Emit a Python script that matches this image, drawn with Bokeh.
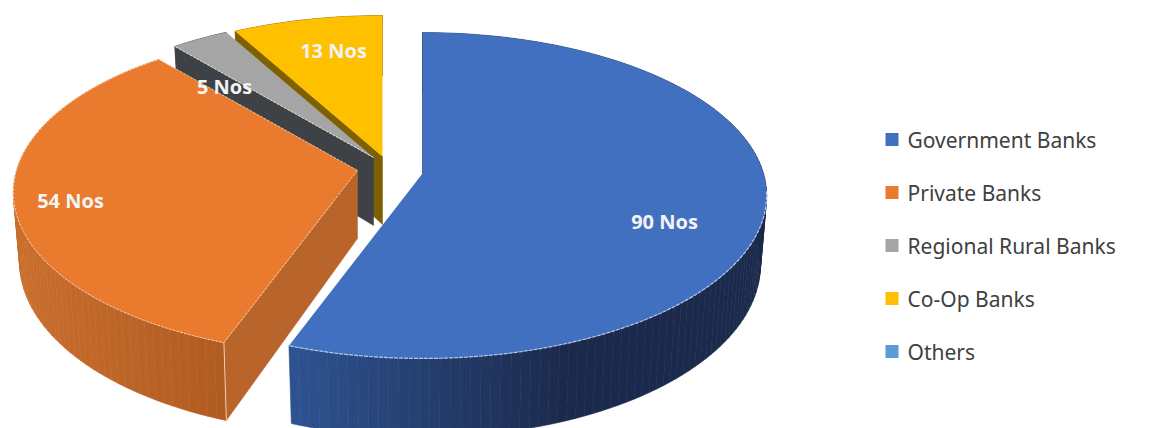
import math

from bokeh.core.properties import value
from bokeh.embed import file_html
from bokeh.models import Range1d
from bokeh.plotting import figure
from bokeh.resources import INLINE

# Number of banks per category
categories = ["Government Banks", "Private Banks", "Regional Rural Banks", "Co-Op Banks", "Others"]
bank_counts = [90, 54, 5, 13, 0]
top_colors = ["#4270C0", "#E97A2E", "#A5A5A5", "#FFC000", "#5B9BD5"]

W, H = 1163, 428

# Perspective disc: half-axes, foreshortening and slab thickness, in pixels
RX, RY, PERSP, THICK, TAPER = 341.0, 160.0, 0.135, 68.0, 0.018

# Exploded position of each slice's tip
tips = [(422, 173), (357, 170), (373, 157), (382, 156), (0, 0)]
label_pos = [(664, 221), (70, 200), (224, 86), (333, 50), None]


def project(tip, t, r=1.0, z=0.0):
    """Map a disc point at clock angle t (radians) and height z to the canvas."""
    u, v = r * math.sin(t), -r * math.cos(t)
    w = 1 - PERSP * v
    return (tip[0] + RX * u / w * (1 - TAPER * z),
            tip[1] + RY * v / w + z * THICK / w)


def blend(c0, c1, f):
    f = min(1.0, max(0.0, f))
    a = [int(c0[i:i + 2], 16) for i in (1, 3, 5)]
    b = [int(c1[i:i + 2], 16) for i in (1, 3, 5)]
    return "#%02x%02x%02x" % tuple(round(p + (q - p) * f) for p, q in zip(a, b))


# Colour of the rim at a given canvas x, per slice
def rim_color(i, x):
    if i == 0:
        return blend("#2E5290", "#1B2A4C", (x - 298) / 270)
    if i == 1:
        return blend("#C96E2D", "#B15C22", (x - 20) / 200)
    if i == 2:
        return "#3E4246"
    return "#7F6000"


cut_colors = ["#1B2A4C", "#B9642A", "#3E4246", "#7F6000", "#5B9BD5"]
edge_colors = ["#B5C8E8", "#F8CFAE", "#E4E4E4", "#FFE9A8", "#FFFFFF"]

p = figure(width=W, height=H, output_backend="svg", toolbar_location=None,
           x_range=Range1d(0, W), y_range=Range1d(H, 0), min_border=0,
           background_fill_color="white", border_fill_color="white",
           outline_line_color=None, x_axis_type=None, y_axis_type=None)
p.grid.visible = False

total = sum(bank_counts)
starts, acc = [], 0
for c in bank_counts:
    starts.append(acc / total * 2 * math.pi)
    acc += c

# Paint back slices first so the nearer ones overlap them
for i in (3, 2, 1, 0):
    span = bank_counts[i] / total * 2 * math.pi
    t0, t1 = starts[i], starts[i] + span
    tip = tips[i]
    steps = max(4, int(math.degrees(span) / 1.5))
    angles = [t0 + span * k / steps for k in range(steps + 1)]

    # Cut face along the leading edge
    a, b = project(tip, t0), project(tip, t0, z=1)
    c, d = project(tip, t0, r=0), project(tip, t0, r=0, z=1)
    p.patch([a[0], b[0], d[0], c[0]], [a[1], b[1], d[1], c[1]],
            fill_color=cut_colors[i], line_color=cut_colors[i], line_width=0.5)

    # Curved rim as narrow shaded strips
    xs, ys, cols = [], [], []
    for s, e in zip(angles[:-1], angles[1:]):
        q = [project(tip, s), project(tip, e), project(tip, e, z=1), project(tip, s, z=1)]
        xs.append([pt[0] for pt in q])
        ys.append([pt[1] for pt in q])
        cols.append(rim_color(i, q[0][0]))
    p.patches(xs, ys, fill_color=cols, line_color=cols, line_width=0.6)

    # Top face
    outline = [project(tip, t) for t in angles]
    corner = project(tip, 0, r=0)
    top_x = [corner[0]] + [pt[0] for pt in outline]
    top_y = [corner[1]] + [pt[1] for pt in outline]
    p.patch(top_x, top_y, fill_color=top_colors[i], line_color=None)

    # Bright bevel where the top meets the walls
    if i == 0:
        front = [project(tip, t) for t in angles if t > math.radians(95)]
        p.line([pt[0] for pt in front], [pt[1] for pt in front],
               line_color=edge_colors[i], line_width=1.2, line_dash="4 1")
    elif i == 1:
        p.line(top_x + top_x[:1], top_y + top_y[:1],
               line_color=edge_colors[i], line_width=1, line_dash="3 1", line_alpha=0.9)
        bevel_top, bevel_bot = project(tip, t0), project(tip, t0, z=1)
        p.line([bevel_top[0], bevel_bot[0]], [bevel_top[1], bevel_bot[1]],
               line_color=edge_colors[i], line_width=1)
    elif i == 2:
        p.line(top_x[:2], top_y[:2], line_color=edge_colors[i], line_width=1, line_dash="3 1")

# Value labels
for v, pos in zip(bank_counts, label_pos):
    if pos is not None:
        p.text([pos[0]], [pos[1]], text=[f"{v} Nos"], text_color="#F4F4F4",
               text_font=value("Open Sans"), text_font_size="20px", text_font_style="bold",
               text_align="center", text_baseline="middle")

# Legend
LEG_TOP, LEG_STEP, LEG_SWATCH_X, LEG_TEXT_X = 139, 53, 891.5, 907
for n, (name, col) in enumerate(zip(categories, top_colors)):
    y = LEG_TOP + n * LEG_STEP
    p.rect([LEG_SWATCH_X], [y], width=13, height=13, fill_color=col, line_color=None)
    p.text([LEG_TEXT_X], [y], text=[name], text_color="#404040",
           text_font=value("Noto Sans"), text_font_size="21px",
           text_align="left", text_baseline="middle")

open("out.html", "w").write(file_html(p, INLINE))
